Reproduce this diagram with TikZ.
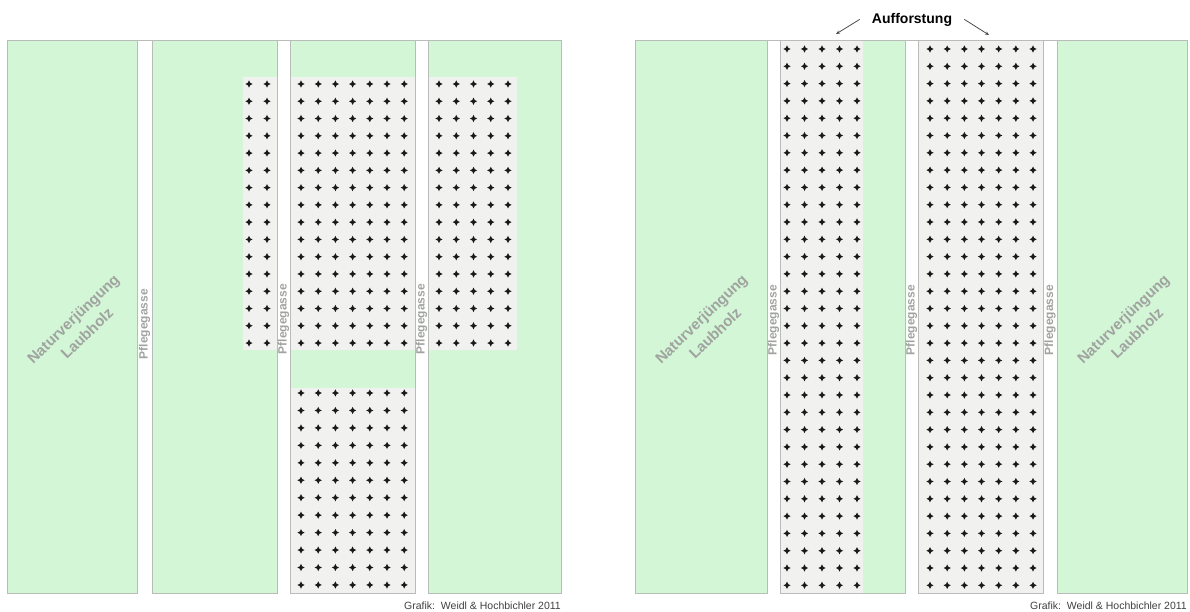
\documentclass[tikz,border=0pt]{standalone}
\usepackage{fontspec}
\setmainfont{Liberation Sans}
\usetikzlibrary{arrows.meta}

\definecolor{wiese}{RGB}{211,246,214}
\definecolor{kultur}{RGB}{241,242,240}
\definecolor{rand}{RGB}{185,188,185}
\definecolor{schrift}{RGB}{160,163,160}

\begin{document}
\begin{tikzpicture}[
    x=1pt, y=-1pt,
    rahmen/.style={draw=rand, line width=0.8pt},
    gassenlabel/.style={rotate=90, text=schrift, inner sep=0pt, font=\fontsize{12}{14}\selectfont\bfseries},
    bestand/.style={rotate=44, text=schrift, align=center, inner sep=0pt, font=\fontsize{15}{20}\selectfont\bfseries},
    quelle/.style={anchor=base east, text=black!75, inner sep=0pt, font=\fontsize{10.5}{12}\selectfont},
    hinweis/.style={-{Stealth[length=4pt, width=3.5pt]}, black!70, line width=0.8pt},
    stern/.pic={\fill[black!90] (0,-3.6) -- (1.2,-1.2) -- (3.6,0) -- (1.2,1.2) -- (0,3.6) -- (-1.2,1.2) -- (-3.6,0) -- (-1.2,-1.2) -- cycle;}
]
\useasboundingbox (0,0) rectangle (1190,611);

% linkes Bild
\fill[wiese] (7,40) rectangle (137,593);
\fill[wiese] (152,40) rectangle (277,593);
\fill[wiese] (290,40) rectangle (415,593);
\fill[wiese] (428,40) rectangle (561,593);
\fill[kultur] (243,77) rectangle (277,350);
\fill[kultur] (290,77) rectangle (415,350);
\fill[kultur] (428,77) rectangle (517,350);
\fill[kultur] (290,388) rectangle (415,593);
\draw[rahmen] (7,40) rectangle (137,593);
\draw[rahmen] (152,40) rectangle (277,593);
\draw[rahmen] (290,40) rectangle (415,593);
\draw[rahmen] (428,40) rectangle (561,593);
\draw[rahmen] (7,40) -- (561,40);

\foreach \i in {0,1} \foreach \j in {0,...,15} \pic at ({249+18*\i},{84+17.27*\j}) {stern};
\foreach \i in {0,...,6} \foreach \j in {0,...,15} \pic at ({301+17.2*\i},{84+17.27*\j}) {stern};
\foreach \i in {0,...,4} \foreach \j in {0,...,15} \pic at ({439+17.25*\i},{84+17.27*\j}) {stern};
\foreach \i in {0,...,6} \foreach \j in {0,...,11} \pic at ({301+17.2*\i},{393+17.45*\j}) {stern};

\node[bestand] (natur1) at (80,326) {Naturverjüngung\\Laubholz};
\node[gassenlabel] (gasse1) at (144.5,324) {Pflegegasse};
\node[gassenlabel] (gasse2) at (283.5,319) {Pflegegasse};
\node[gassenlabel] (gasse3) at (421.5,319) {Pflegegasse};
\node[quelle] (quelle1) at (561,609) {Grafik:\ \ Weidl \& Hochbichler 2011};

% rechtes Bild
\fill[wiese] (635,40) rectangle (767,593);
\fill[wiese] (780,40) rectangle (905,593);
\fill[wiese] (918,40) rectangle (1043,593);
\fill[wiese] (1057,40) rectangle (1187,593);
\fill[kultur] (780,40) rectangle (863,593);
\fill[kultur] (918,40) rectangle (1043,593);
\draw[rahmen] (635,40) rectangle (767,593);
\draw[rahmen] (780,40) rectangle (905,593);
\draw[rahmen] (918,40) rectangle (1043,593);
\draw[rahmen] (1057,40) rectangle (1187,593);
\draw[rahmen] (635,40) -- (1187,40);

\foreach \i in {0,...,4} \foreach \j in {0,...,31} \pic at ({787+17.5*\i},{49+17.3*\j}) {stern};
\foreach \i in {0,...,6} \foreach \j in {0,...,31} \pic at ({930+17.17*\i},{49+17.3*\j}) {stern};

\node[bestand] (natur2) at (708,326) {Naturverjüngung\\Laubholz};
\node[bestand] (natur3) at (1130,326) {Naturverjüngung\\Laubholz};
\node[gassenlabel] (gasse4) at (773.5,320) {Pflegegasse};
\node[gassenlabel] (gasse5) at (911.5,320) {Pflegegasse};
\node[gassenlabel] (gasse6) at (1050,320) {Pflegegasse};
\node[quelle] (quelle2) at (1187,609) {Grafik:\ \ Weidl \& Hochbichler 2011};

\node[anchor=base, outer xsep=9pt, font=\fontsize{14}{16}\selectfont\bfseries] (auff) at (912,23) {Aufforstung};
\coordinate (ziel1) at (836,34);
\coordinate (ziel2) at (989,35);
\draw[hinweis] (auff.west) -- (ziel1);
\draw[hinweis] (auff.east) -- (ziel2);
\end{tikzpicture}
\end{document}
